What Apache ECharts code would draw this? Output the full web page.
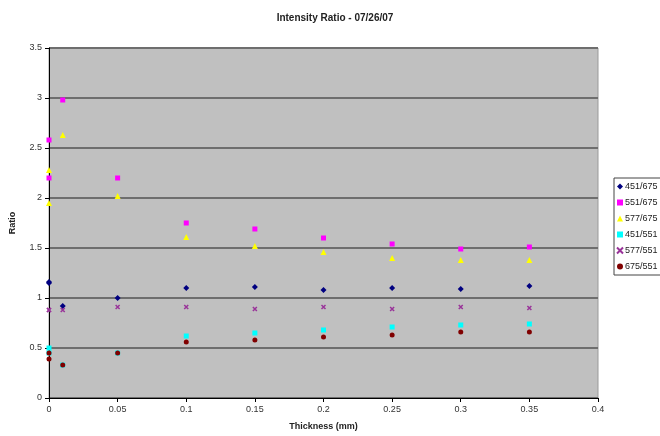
<!DOCTYPE html>
<html>
<head>
<meta charset="utf-8">
<script src="https://cdn.jsdelivr.net/npm/echarts@6/dist/echarts.min.js"></script>
<style>
html,body{margin:0;padding:0;background:#fff;}
#chart{width:660px;height:436px;}
</style>
</head>
<body>
<div id="chart"></div>
<script>
var thickness = [0, 0, 0.01, 0.05, 0.1, 0.15, 0.2, 0.25, 0.3, 0.35];
var seriesNames = ['451/675', '551/675', '577/675', '451/551', '577/551', '675/551'];
var r451_675 = [1.16, 1.15, 0.92, 1.00, 1.10, 1.11, 1.08, 1.10, 1.09, 1.12];
var r551_675 = [2.58, 2.20, 2.98, 2.20, 1.75, 1.69, 1.60, 1.54, 1.49, 1.51];
var r577_675 = [2.28, 1.95, 2.63, 2.02, 1.61, 1.52, 1.46, 1.40, 1.38, 1.38];
var r451_551 = [0.45, 0.50, 0.33, 0.45, 0.62, 0.65, 0.68, 0.71, 0.73, 0.74];
var r577_551 = [0.88, 0.88, 0.88, 0.91, 0.91, 0.89, 0.91, 0.89, 0.91, 0.90];
var r675_551 = [0.39, 0.45, 0.33, 0.45, 0.56, 0.58, 0.61, 0.63, 0.66, 0.66];
var xTicks = [0, 0.05, 0.1, 0.15, 0.2, 0.25, 0.3, 0.35, 0.4];
var yTicks = [0, 0.5, 1, 1.5, 2, 2.5, 3, 3.5];

var allValues = [r451_675, r551_675, r577_675, r451_551, r577_551, r675_551];
var colors = ['#000080', '#FF00FF', '#FFFF00', '#00FFFF', '#993399', '#800000'];
var xPath = 'path://M0,0 L10,10 M10,0 L0,10';
var symbols = ['diamond', 'rect', 'triangle', 'rect', xPath, 'circle'];
var sizes = [6, 5, 6, 5, 4, 5];

function pairs(vals) {
  return thickness.map(function (t, i) { return [t, vals[i]]; });
}

var series = seriesNames.map(function (name, k) {
  return {
    name: name,
    type: 'scatter',
    data: pairs(allValues[k]),
    symbol: symbols[k],
    symbolSize: sizes[k],
    itemStyle: { color: colors[k], borderColor: colors[k], borderWidth: k === 4 ? 1.5 : 0, opacity: 1 },
    emphasis: { disabled: true },
    z: 2 + k
  };
});

var chart = echarts.init(document.getElementById('chart'));
chart.setOption({
  animation: false,
  backgroundColor: '#ffffff',
  textStyle: { fontFamily: 'Liberation Sans, Arial, sans-serif' },
  title: {
    text: 'Intensity Ratio - 07/26/07',
    left: 330, top: 8, textAlign: 'center',
    textStyle: { fontSize: 10, fontWeight: 'bold', color: '#222', fontFamily: 'Liberation Sans, Arial, sans-serif' }
  },
  grid: { left: 46, top: 48, width: 552, height: 350, show: true, backgroundColor: '#C0C0C0', borderColor: '#9a9a9a', borderWidth: 1 },
  legend: {
    orient: 'vertical',
    left: 614, top: 178,
    itemWidth: 6, itemHeight: 6, itemGap: 7,
    padding: [4, 30, 4, 2],
    borderColor: '#444', borderWidth: 1,
    backgroundColor: '#ffffff',
    textStyle: { fontSize: 9, color: '#222', padding: [0, 0, 0, -3] },
    data: seriesNames
  },
  xAxis: {
    type: 'value', min: 0, max: 0.4, interval: 0.05,
    name: 'Thickness (mm)', nameLocation: 'middle', nameGap: 24,
    nameTextStyle: { fontSize: 9, fontWeight: 'bold', color: '#222' },
    axisLine: { show: true, onZero: false, lineStyle: { color: '#000', width: 1 } },
    axisTick: { show: true, inside: false, length: 4, lineStyle: { color: '#000' } },
    axisLabel: { fontSize: 9, color: '#333', margin: 7, formatter: function (v) { return String(+v.toFixed(2)); } },
    splitLine: { show: false }
  },
  yAxis: {
    type: 'value', min: 0, max: 3.5, interval: 0.5,
    name: 'Ratio', nameLocation: 'middle', nameGap: 32, nameRotate: 90,
    nameTextStyle: { fontSize: 9, fontWeight: 'bold', color: '#222' },
    axisLine: { show: true, lineStyle: { color: '#000', width: 1 } },
    axisTick: { show: true, length: 4, lineStyle: { color: '#000' } },
    axisLabel: { fontSize: 9, color: '#333', margin: 7, formatter: function (v) { return String(+v.toFixed(1)); } },
    splitLine: { show: true, lineStyle: { color: '#6e6e6e', width: 2 } }
  },
  series: series
});
</script>
</body>
</html>
